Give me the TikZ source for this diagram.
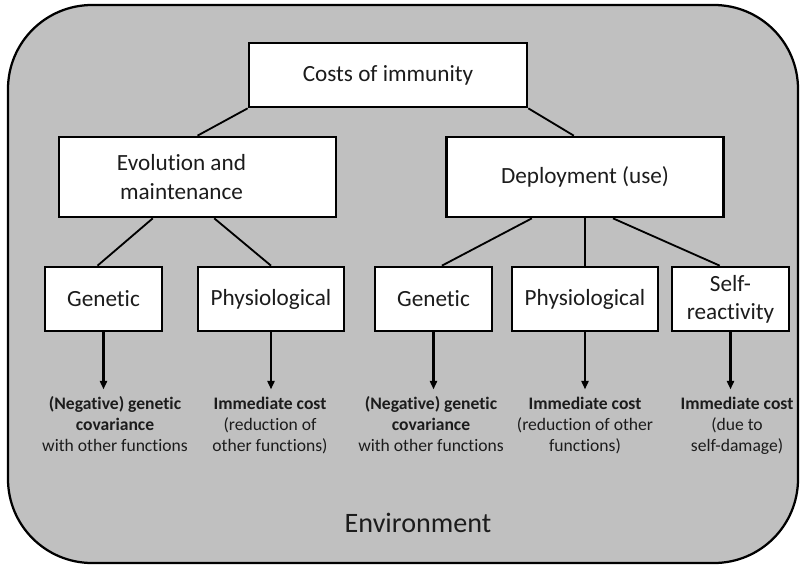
\documentclass[tikz,border=0pt]{standalone}
\usepackage{fontspec}
\setmainfont{Carlito}[Ligatures=NoCommon]
\usetikzlibrary{calc, positioning, arrows.meta}
\definecolor{envGrey}{RGB}{192,192,192}
\definecolor{inkGrey}{RGB}{28,28,28}

\begin{document}
\begin{tikzpicture}[
  x=0.025cm, y=-0.025cm,
  boxtext/.style={font=\fontsize{16.5}{20}\selectfont, text=inkGrey, align=center},
  box/.style={boxtext, draw=black, fill=white, line width=1.9pt, inner sep=0pt},
  link/.style={line width=1.3pt},
  res/.style={anchor=north, align=center, inner sep=1pt, text=inkGrey,
              font=\fontsize{12.5}{15}\selectfont},
  arr/.style={line width=1.5pt, -{Triangle[width=5pt,length=6pt]}, shorten >=4pt},
]
% one unit = one pixel of the 801x567 frame
\def\px{0.025cm}
\def\bigW{277}   % width of the upper boxes
\def\smallW{117} % width of Genetic / Self-reactivity
\def\physW{146}  % width of Physiological
\def\rowY{299}   % centre line of the lower boxes
\def\resY{395}   % top of the outcome texts

\useasboundingbox (0,0) rectangle (801,567);

% Environment frame
\draw[line width=1.6pt, fill=envGrey, rounded corners=2.1cm] (8,5) rectangle (798,563);
\node[font=\fontsize{20}{24}\selectfont, text=inkGrey] (env) at (418,523) {Environment};

% Top level
\node[box, minimum width=278*\px, minimum height=64*\px] (cost) at (388,75) {Costs of immunity};

% Second level
\node[box, minimum width=\bigW*\px, minimum height=80*\px,
      label={[boxtext, xshift=-16*\px]center:Evolution and\\maintenance}] (evol) at (197.5,177) {};
\node[box, minimum width=\bigW*\px, minimum height=80*\px] (deploy) at (585,177) {Deployment (use)};

% Third level
\node[box, minimum width=\smallW*\px, minimum height=64*\px] (genl)  at (103.5,\rowY) {Genetic};
\node[box, minimum width=\physW*\px,  minimum height=64*\px] (physl) at (271,\rowY)   {Physiological};
\node[box, minimum width=\smallW*\px, minimum height=64*\px] (genr)  at (433.5,\rowY) {Genetic};
\node[box, minimum width=\physW*\px,  minimum height=64*\px] (physr) at (585,\rowY)   {Physiological};
\node[box, minimum width=\smallW*\px, minimum height=64*\px] (self)  at (730.5,\rowY) {Self-\\reactivity};

% Tree lines
\draw[link] (cost.south west) -- (evol.north);
\draw[link] (cost.south east) -- ($(deploy.north west)!0.46!(deploy.north east)$);
\draw[link] ($(evol.south west)!0.34!(evol.south east)$) -- ($(genl.north west)!0.45!(genl.north east)$);
\draw[link] ($(evol.south west)!0.56!(evol.south east)$) -- (physl.north);
\draw[link] ($(deploy.south west)!0.31!(deploy.south east)$) -- ($(genr.north west)!0.57!(genr.north east)$);
\draw[link] (deploy.south) -- (physr.north);
\draw[link] ($(deploy.south west)!0.60!(deploy.south east)$) -- ($(self.north west)!0.41!(self.north east)$);

% Outcomes
\node[res] (resgl) at (115,\resY) {\textbf{(Negative) genetic}\\\textbf{covariance}\\with other functions};
\node[res] (respl) at (270,\resY) {\textbf{Immediate cost}\\(reduction of\\other functions)};
\node[res] (resgr) at (431,\resY) {\textbf{(Negative) genetic}\\\textbf{covariance}\\with other functions};
\node[res] (respr) at (585,\resY) {\textbf{Immediate cost}\\(reduction of other\\functions)};
\node[res] (resself) at (737,\resY) {\textbf{Immediate cost}\\(due to\\self-damage)};

\draw[arr] (genl.south)  -- (genl.south |- resgl.north);
\draw[arr] (physl.south) -- (physl.south |- respl.north);
\draw[arr] (genr.south)  -- (genr.south |- resgr.north);
\draw[arr] (physr.south) -- (physr.south |- respr.north);
\draw[arr] (self.south)  -- (self.south |- resself.north);

\end{tikzpicture}
\end{document}
